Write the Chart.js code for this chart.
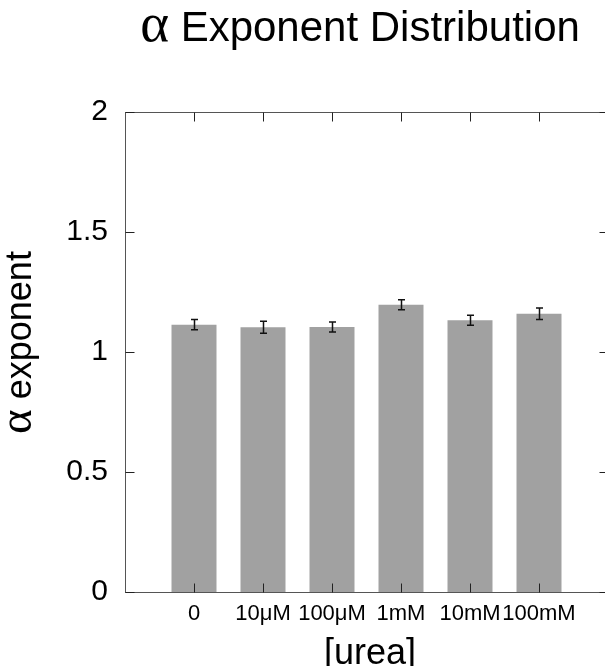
<!DOCTYPE html>
<html>
<head>
<meta charset="utf-8">
<script src="https://cdn.jsdelivr.net/npm/chart.js@4.4.0/dist/chart.umd.min.js"></script>
<style>
html, body { margin: 0; padding: 0; background: #fff; overflow: hidden; }
canvas { display: block; }
</style>
</head>
<body>
<canvas id="myChart" width="620" height="666"></canvas>
<script>
var categories = ['0', '10μM', '100μM', '1mM', '10mM', '100mM'];
var alphaValues = [1.114, 1.103, 1.104, 1.197, 1.132, 1.159];
var alphaErrors = [0.021, 0.025, 0.021, 0.021, 0.021, 0.024];
var yTicks = [0, 0.5, 1, 1.5, 2];

var SANS = '"Liberation Sans", Arial, Helvetica, sans-serif';
var SERIF = '"Liberation Serif", "Times New Roman", serif';

// draws text pieces in different fonts one after another, centred on x
function drawRuns(ctx, runs, size, x, y) {
    var total = 0;
    runs.forEach(function (r) {
        ctx.font = Math.round(size * (r.scale || 1)) + 'px ' + r.font;
        r.w = ctx.measureText(r.text).width;
        total += r.w;
    });
    var pos = x - total / 2;
    ctx.textAlign = 'left';
    ctx.textBaseline = 'alphabetic';
    runs.forEach(function (r) {
        ctx.font = Math.round(size * (r.scale || 1)) + 'px ' + r.font;
        ctx.fillText(r.text, pos, y);
        pos += r.w;
    });
}

var framePlugin = {
    id: 'frame',
    afterDatasetsDraw: function (chart) {
        var ctx = chart.ctx;
        var a = chart.chartArea;
        var xs = chart.scales.x, ys = chart.scales.y;
        ctx.save();

        // error bars
        ctx.strokeStyle = '#111';
        ctx.lineWidth = 1.5;
        chart.getDatasetMeta(0).data.forEach(function (bar, i) {
            var top = ys.getPixelForValue(alphaValues[i] + alphaErrors[i]);
            var bot = ys.getPixelForValue(alphaValues[i] - alphaErrors[i]);
            var cx = Math.round(bar.x) + 0.5;
            ctx.beginPath();
            ctx.moveTo(cx, top); ctx.lineTo(cx, bot);
            ctx.moveTo(cx - 3.5, top); ctx.lineTo(cx + 3.5, top);
            ctx.moveTo(cx - 3.5, bot); ctx.lineTo(cx + 3.5, bot);
            ctx.stroke();
        });

        // box around the plot
        var L = Math.round(a.left) + 0.5, R = Math.round(a.right) + 0.5;
        var T = Math.round(a.top) + 0.5, B = Math.round(a.bottom) + 0.5;
        ctx.strokeStyle = '#555';
        ctx.lineWidth = 1;
        ctx.strokeRect(L, T, R - L, B - T);

        // inward tick marks on all four sides
        var len = 9;
        ctx.strokeStyle = '#222';
        ctx.beginPath();
        yTicks.forEach(function (v) {
            var y = Math.round(ys.getPixelForValue(v)) + 0.5;
            ctx.moveTo(L, y); ctx.lineTo(L + len, y);
            ctx.moveTo(R, y); ctx.lineTo(R - len, y);
        });
        categories.forEach(function (c, i) {
            var x = Math.round(xs.getPixelForValue(i + 1)) + 0.5;
            ctx.moveTo(x, B); ctx.lineTo(x, B - len);
            ctx.moveTo(x, T); ctx.lineTo(x, T + len);
        });
        ctx.stroke();
        ctx.restore();
    },
    afterDraw: function (chart) {
        var ctx = chart.ctx;
        ctx.save();
        ctx.fillStyle = '#000';
        drawRuns(ctx, [
            { text: 'α', font: SERIF, scale: 1.3 },
            { text: ' Exponent Distribution', font: SANS }
        ], 42, 360, 41);

        drawRuns(ctx, [{ text: '[urea]', font: SANS }], 36, 370, 664);

        ctx.translate(30.5, 342.5);
        ctx.rotate(-Math.PI / 2);
        drawRuns(ctx, [
            { text: 'α', font: SERIF, scale: 1.3 },
            { text: ' exponent', font: SANS }
        ], 36, 0, 0);
        ctx.restore();
    }
};

var ctx = document.getElementById('myChart').getContext('2d');
var myChart = new Chart(ctx, {
    type: 'bar',
    data: {
        datasets: [{
            label: 'α exponent',
            data: categories.map(function (c, i) { return { x: i + 1, y: alphaValues[i] }; }),
            backgroundColor: '#a1a1a1',
            borderWidth: 0,
            categoryPercentage: 1,
            barPercentage: 0.652
        }]
    },
    options: {
        responsive: false,
        animation: false,
        devicePixelRatio: 1,
        layout: { padding: { top: 112, right: 12, bottom: 0, left: 0 } },
        plugins: {
            legend: { display: false },
            tooltip: { enabled: false },
            title: { display: false }
        },
        scales: {
            x: {
                type: 'linear',
                offset: false,
                min: 0,
                max: 7,
                grid: { display: false, drawTicks: false, offset: false },
                border: { display: false },
                ticks: {
                    stepSize: 1,
                    autoSkip: false,
                    maxRotation: 0,
                    padding: 9,
                    color: '#000',
                    font: { family: SANS, size: 22 },
                    callback: function (v) { return categories[v - 1] || ''; }
                },
                afterFit: function (scale) { scale.height = 74; }
            },
            y: {
                min: 0,
                max: 2,
                grid: { display: false, drawTicks: false },
                border: { display: false },
                ticks: {
                    padding: 17,
                    color: '#000',
                    font: { family: SANS, size: 30 },
                    callback: function (v) { return String(v); }
                },
                afterBuildTicks: function (scale) {
                    scale.ticks = yTicks.map(function (v) { return { value: v }; });
                },
                afterFit: function (scale) { scale.width = 125; }
            }
        }
    },
    plugins: [framePlugin]
});
</script>
</body>
</html>
